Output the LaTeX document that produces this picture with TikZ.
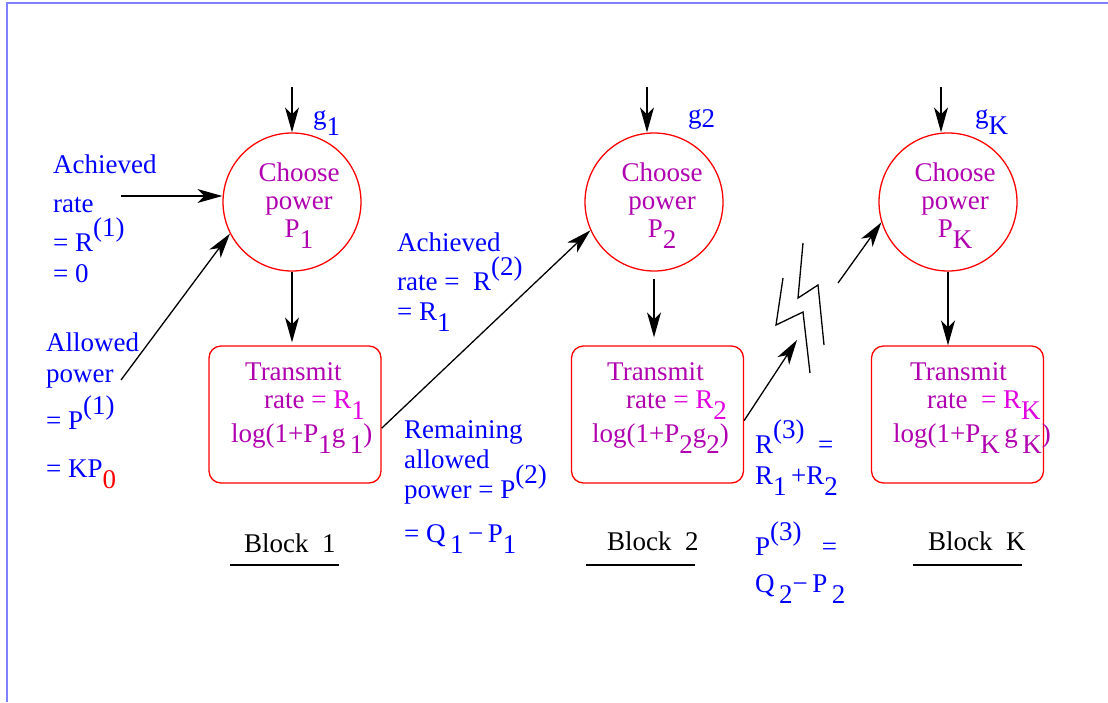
\documentclass[tikz,border=0pt]{standalone}
\usepackage{fontspec}
\setmainfont{Liberation Serif}
\usetikzlibrary{arrows.meta}
\definecolor{figblue}{HTML}{0000FF}
\definecolor{figred}{HTML}{FF0000}
\definecolor{figmag}{HTML}{B000B0}
\definecolor{figpink}{HTML}{E000E0}
\definecolor{framebl}{HTML}{8080FF}
\newcommand{\sbs}[1]{\raisebox{-0.42em}[0pt][0pt]{#1}}
\newcommand{\sps}[1]{\raisebox{0.55em}[0pt][0pt]{#1}}

\begin{document}
\begin{tikzpicture}[x=1pt,y=-1pt,
 chooser/.style={circle,draw=figred,line width=1.3pt,minimum size=138pt,inner sep=0pt},
 ctext/.style={anchor=base,align=center,inner sep=0pt,text=figmag,font=\fontsize{27}{28}\selectfont},
 tbox/.style={rounded corners=12pt,draw=figred,line width=1.3pt,minimum width=172pt,minimum height=137pt,inner sep=0pt},
 btext/.style={anchor=base west,align=left,inner sep=0pt,text=figmag,font=\fontsize{27}{28}\selectfont},
 note/.style={anchor=base west,align=left,inner sep=0pt,text=figblue,font=\fontsize{27}{28}\selectfont},
 blk/.style={anchor=base west,inner sep=0pt,font=\fontsize{27}{28}\selectfont},
 a/.style={-{Stealth[length=25pt,width=14pt,inset=7pt]},line width=1.3pt},
 uline/.style={line width=1.3pt},
 frame/.style={draw=framebl,line width=1.6pt}]
\useasboundingbox (0,0) rectangle (1108,702);
\draw[frame] (7,702) -- (7,3) -- (1108,3);

\node[chooser] (c1) at (292,202) {};
\node[chooser] (c2) at (654,202) {};
\node[chooser] (cK) at (948,202) {};
\node[ctext] (c1t) at (299,237) {Choose\\power\\P\sbs{1}};
\node[ctext] (c2t) at (662,237) {Choose\\power\\P\sbs{2}};
\node[ctext] (cKt) at (955,237) {Choose\\power\\P\sbs{K}};

\node[tbox] (b1) at (295,414.5) {};
\node[tbox] (b2) at (657.5,414.5) {};
\node[tbox] (bK) at (957.5,414.5) {};
\node[btext] (b1t) at (231,442) {\hspace*{14pt}Transmit\\\hspace*{33pt}rate {\color{figpink}= R\sbs{1}}\\[6pt]log(1+P\sbs{1}g\,\sbs{1})};
\node[btext] (b2t) at (592,442) {\hspace*{15pt}Transmit\\\hspace*{34pt}rate {\color{figpink}= R\sbs{2}}\\[6pt]log(1+P\sbs{2}g\sbs{2})};
\node[btext] (bKt) at (893,442) {\hspace*{17pt}Transmit\\\hspace*{34pt}rate\ \ {\color{figpink}= R\sbs{K}}\\[6pt]log(1+P\sbs{K}\,g\,\sbs{K})};

\node[note] (g1) at (313,124) {g\sbs{1}};
\node[note] (g2) at (688,123) {g\raisebox{-0.15em}{2}};
\node[note] (gK) at (975,123) {g\sbs{K}};

\node[note] (rate1) at (53,282) {Achieved\\[11pt]rate\\[11pt]= R\sps{(1)}\\[3pt]= 0};
\node[note] (pow1) at (46,477) {Allowed\\[3pt]power\\[19pt]= P\sps{(1)}\\[20pt]= KP\sbs{\textcolor{figred}{0}}};
\node[note] (rate2) at (397,320) {Achieved\\[11pt]rate =\ \ R\sps{(2)}\\[2pt]= R\sbs{1}};
\node[note] (pow2) at (404,542) {Remaining\\[2pt]allowed\\[2pt]power = P\sps{(2)}\\[16pt]= Q\,\sbs{1}\,−\,P\sbs{1}};
\node[note] (rate3) at (755,592) {R\sps{(3)}\ \ =\\[3pt]R\sbs{1}\,+R\sbs{2}\\[43pt]P\sps{(3)}\ \ \ =\\[9pt]Q\,\sbs{2}−\,P\,\sbs{2}};

\node[blk] (blk1) at (244,552) {Block\ \ 1};
\node[blk] (blk2) at (607,550) {Block\ \ 2};
\node[blk] (blkK) at (928,550) {Block\ \ K};
\draw[uline] (230,565) -- (339,565);
\draw[uline] (586,565) -- (695,565);
\draw[uline] (913,565) -- (1022,565);

\coordinate (g1top) at (292,87);
\coordinate (g2top) at (647,87);
\coordinate (gKtop) at (941,87);
\draw[a] (g1top) -- (c1.north);
\draw[a] (g2top) -- (g2top |- c2.north);
\draw[a] (gKtop) -- (gKtop |- cK.north);

\draw[a,shorten >=3pt] (c1.south) -- (c1.south |- b1.north);
\draw[a,shorten <=7pt,shorten >=8pt] (c2.south) -- (c2.south |- b2.north);
\draw[a] (cK.south) -- (cK.south |- bK.north);

\coordinate (r1) at (121,196);
\coordinate (p1) at (121,380);
\draw[a] (r1) -- (r1 -| c1.west);
\draw[a] (p1) -- (c1.207);
\draw[a] (b1.-9) -- (c2.204);

\coordinate (brkin) at (797,340);
\coordinate (brkout) at (838,283);
\draw[a] (b2.-4) -- (brkin);
\draw[uline] (783,278) -- (776,325) -- (803,312) -- (810,373);
\draw[uline] (803,243) -- (798,298) -- (818,285) -- (824,345);
\draw[a] (brkout) -- (cK.197);
\end{tikzpicture}
\end{document}
